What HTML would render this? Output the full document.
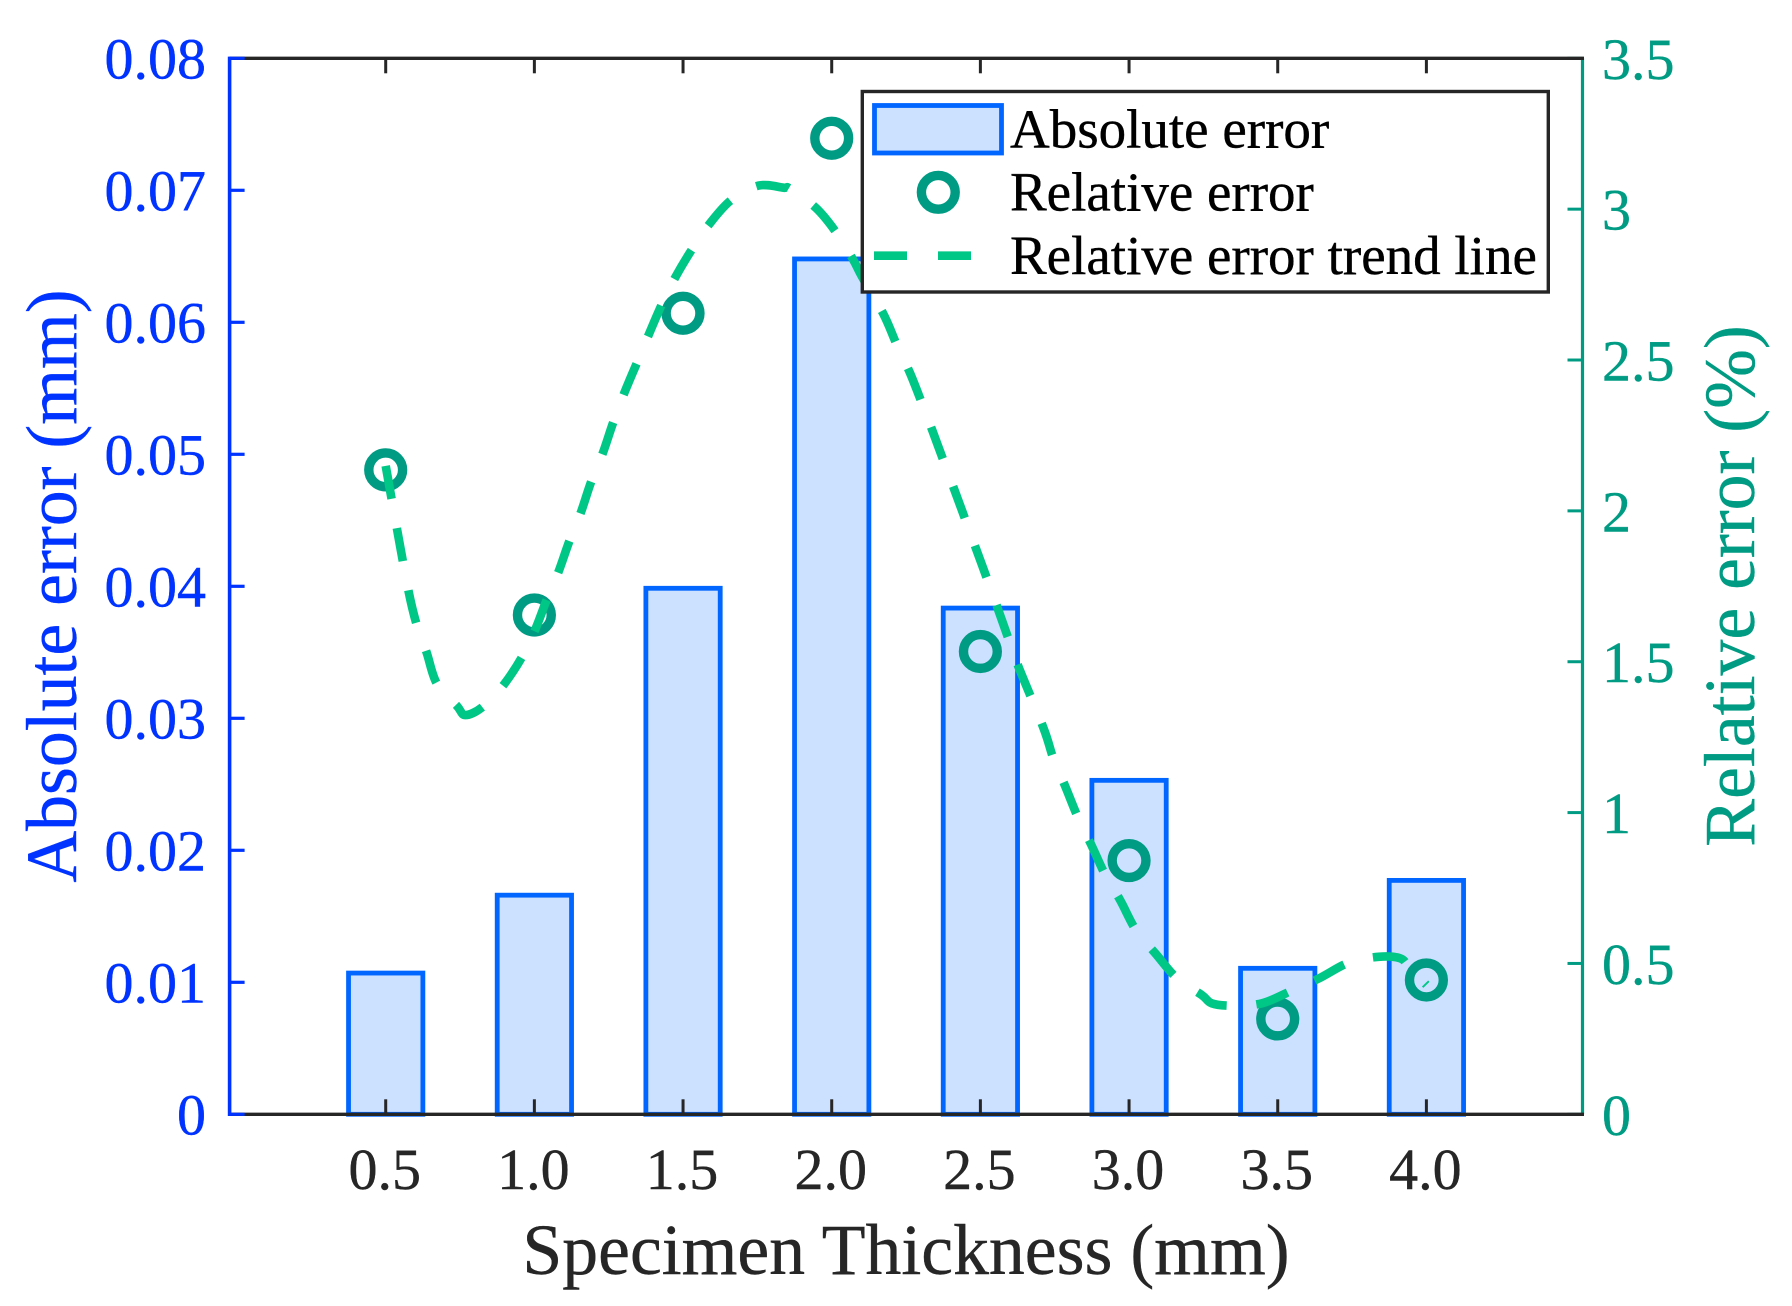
<!DOCTYPE html>
<html lang="en">
<head>
<meta charset="utf-8">
<title>Absolute and relative error vs specimen thickness</title>
<style>
html,body{margin:0;padding:0;background:#fff;}
svg{display:block;}
text{font-family:"Liberation Serif","Times New Roman",serif;}
</style>
</head>
<body>
<svg id="chart" xmlns="http://www.w3.org/2000/svg" width="1792" height="1306" viewBox="0 0 1792 1306"></svg>
<script>
const categories = [0.5, 1.0, 1.5, 2.0, 2.5, 3.0, 3.5, 4.0];
const categoryLabels = ['0.5', '1.0', '1.5', '2.0', '2.5', '3.0', '3.5', '4.0'];
const absoluteError = [0.01070, 0.01660, 0.03985, 0.06480, 0.03835, 0.02530, 0.01106, 0.01772];
const relativeError = [2.136, 1.655, 2.655, 3.235, 1.534, 0.841, 0.316, 0.445];
const leftTicks = [0, 0.01, 0.02, 0.03, 0.04, 0.05, 0.06, 0.07, 0.08];
const leftTickLabels = ['0', '0.01', '0.02', '0.03', '0.04', '0.05', '0.06', '0.07', '0.08'];
const rightTicks = [0, 0.5, 1, 1.5, 2, 2.5, 3, 3.5];
const rightTickLabels = ['0', '0.5', '1', '1.5', '2', '2.5', '3', '3.5'];
const trendThickness = [0.5, 0.538, 0.577, 0.603, 0.637, 0.672, 0.740, 0.768, 0.827, 0.896, 0.958, 1.003, 1.042, 1.081, 1.118, 1.157, 1.191, 1.231, 1.266, 1.302, 1.345, 1.384, 1.429, 1.474, 1.530, 1.589, 1.662, 1.754, 1.838, 1.861, 1.948, 2.017, 2.073, 2.102, 2.174, 2.219, 2.262, 2.303, 2.339, 2.378, 2.413, 2.452, 2.486, 2.525, 2.559, 2.597, 2.630, 2.712, 2.746, 2.785, 2.828, 2.872, 2.920, 2.970, 3.024, 3.088, 3.161, 3.245, 3.278, 3.346, 3.447, 3.547, 3.640, 3.738, 3.839, 3.912, 3.942, 4.0];
const trendError = [2.149, 1.940, 1.733, 1.627, 1.533, 1.428, 1.353, 1.323, 1.351, 1.423, 1.515, 1.607, 1.707, 1.798, 1.901, 1.997, 2.097, 2.194, 2.296, 2.390, 2.491, 2.583, 2.685, 2.774, 2.867, 2.951, 3.030, 3.078, 3.071, 3.067, 3.003, 2.920, 2.831, 2.776, 2.652, 2.550, 2.460, 2.358, 2.265, 2.161, 2.069, 1.964, 1.873, 1.768, 1.675, 1.569, 1.479, 1.281, 1.178, 1.088, 0.984, 0.895, 0.793, 0.710, 0.609, 0.534, 0.451, 0.395, 0.368, 0.360, 0.368, 0.410, 0.451, 0.502, 0.522, 0.517, 0.488, 0.429];

const NS = 'http://www.w3.org/2000/svg';
const svg = document.getElementById('chart');
const plot = {left: 229.6, right: 1582.5, top: 58.3, bottom: 1114.3};
const xMin = -0.025, xMax = 4.525, leftMax = 0.08, rightMax = 3.5;
const BLUE = '#0033ff', TEAL = '#009b83', DARK = '#262626', BAR_EDGE = '#0066ff', BAR_FILL = '#cce0ff', LINE = '#00c785';

function xPos(t) { return plot.left + (t - xMin) / (xMax - xMin) * (plot.right - plot.left); }
function yLeft(v) { return plot.bottom - v / leftMax * (plot.bottom - plot.top); }
function yRight(v) { return plot.bottom - v / rightMax * (plot.bottom - plot.top); }
function make(tag, attrs) {
  const node = document.createElementNS(NS, tag);
  for (const key in attrs) node.setAttribute(key, attrs[key]);
  if (tag === 'text') {
    node.setAttribute('stroke', attrs.fill);
    node.setAttribute('stroke-width', '0.4');
  }
  return node;
}
function smoothPath(pts) {
  let d = 'M' + pts[0][0].toFixed(1) + ' ' + pts[0][1].toFixed(1);
  for (let i = 0; i < pts.length - 1; i++) {
    const p0 = pts[Math.max(i - 1, 0)], p1 = pts[i], p2 = pts[i + 1], p3 = pts[Math.min(i + 2, pts.length - 1)];
    const c1x = p1[0] + (p2[0] - p0[0]) / 6, c1y = p1[1] + (p2[1] - p0[1]) / 6;
    const c2x = p2[0] - (p3[0] - p1[0]) / 6, c2y = p2[1] - (p3[1] - p1[1]) / 6;
    d += 'C' + c1x.toFixed(1) + ' ' + c1y.toFixed(1) + ' ' + c2x.toFixed(1) + ' ' + c2y.toFixed(1) + ' ' + p2[0].toFixed(1) + ' ' + p2[1].toFixed(1);
  }
  return d;
}

const barWidth = xPos(0.25) - xPos(0);
absoluteError.forEach(function (v, i) {
  const el = make('rect', {x: xPos(categories[i]) - barWidth / 2, y: yLeft(v), width: barWidth, height: plot.bottom - yLeft(v), fill: BAR_FILL, stroke: BAR_EDGE, 'stroke-width': 4.8});
  
  
  svg.appendChild(el);
});

rightTicks.forEach(function (v, i) {
  const y = yRight(v);
  const tick = make('line', {x1: plot.right, x2: plot.right - 15, y1: y, y2: y, stroke: TEAL, 'stroke-width': 3});
  
  
  svg.appendChild(tick);
  const label = make('text', {x: 1602, y: y + 20.5, 'font-size': 58, fill: TEAL});
  label.textContent = rightTickLabels[i];
  
  
  svg.appendChild(label);
});

const rightAxis = make('line', {x1: plot.right, x2: plot.right, y1: plot.top, y2: plot.bottom, stroke: TEAL, 'stroke-width': 3.2});


svg.appendChild(rightAxis);

const topAxis = make('line', {x1: plot.left, x2: plot.right + 1.5, y1: plot.top, y2: plot.top, stroke: DARK, 'stroke-width': 3.4});


svg.appendChild(topAxis);

const bottomAxis = make('line', {x1: plot.left, x2: plot.right + 1.5, y1: plot.bottom, y2: plot.bottom, stroke: DARK, 'stroke-width': 3.4});


svg.appendChild(bottomAxis);

categories.forEach(function (t, i) {
  const x = xPos(t);
  const tickBottom = make('line', {x1: x, x2: x, y1: plot.bottom, y2: plot.bottom - 15, stroke: DARK, 'stroke-width': 3});
  
  
  svg.appendChild(tickBottom);
  const tickTop = make('line', {x1: x, x2: x, y1: plot.top, y2: plot.top + 15, stroke: DARK, 'stroke-width': 3});
  
  
  svg.appendChild(tickTop);
  const label = make('text', {x: x - 1, y: 1189, 'font-size': 58, fill: DARK, 'text-anchor': 'middle'});
  label.textContent = categoryLabels[i];
  
  
  svg.appendChild(label);
});

leftTicks.forEach(function (v, i) {
  const y = yLeft(v);
  const tick = make('line', {x1: plot.left, x2: plot.left + 15, y1: y, y2: y, stroke: BLUE, 'stroke-width': 3.2});
  
  
  svg.appendChild(tick);
  const label = make('text', {x: 206, y: y + 20.4, 'font-size': 58, fill: BLUE, 'text-anchor': 'end'});
  label.textContent = leftTickLabels[i];
  
  
  svg.appendChild(label);
});

const leftAxis = make('line', {x1: plot.left, x2: plot.left, y1: plot.top - 1.7, y2: plot.bottom + 1.7, stroke: BLUE, 'stroke-width': 3.6});


svg.appendChild(leftAxis);

relativeError.forEach(function (v, i) {
  const el = make('circle', {cx: xPos(categories[i]), cy: yRight(v), r: 16.9, fill: 'none', stroke: TEAL, 'stroke-width': 9.4});
  
  
  svg.appendChild(el);
});

const trendPoints = trendThickness.map(function (t, i) { return [xPos(t), yRight(trendError[i])]; });
const trend = make('path', {d: smoothPath(trendPoints), fill: 'none', stroke: LINE, 'stroke-width': 8.6, 'stroke-dasharray': '33.5 29.7', 'stroke-linejoin': 'round'});


svg.appendChild(trend);

const legendBox = make('rect', {x: 862.3, y: 91.5, width: 686, height: 200.5, fill: '#ffffff', stroke: DARK, 'stroke-width': 3.4});


svg.appendChild(legendBox);

const legendSwatch = make('rect', {x: 874.5, y: 105.5, width: 127, height: 47.5, fill: BAR_FILL, stroke: BAR_EDGE, 'stroke-width': 4.8});


svg.appendChild(legendSwatch);

const legendMarker = make('circle', {cx: 938.3, cy: 192.3, r: 16.9, fill: 'none', stroke: TEAL, 'stroke-width': 9.4});


svg.appendChild(legendMarker);

const legendDash = make('line', {x1: 874, x2: 971, y1: 255.7, y2: 255.7, stroke: LINE, 'stroke-width': 8.6, 'stroke-dasharray': '33 31'});


svg.appendChild(legendDash);

const legendText1 = make('text', {x: 1010, y: 147.5, 'font-size': 55, fill: '#000000'});
legendText1.textContent = 'Absolute error';


svg.appendChild(legendText1);

const legendText2 = make('text', {x: 1010, y: 210.5, 'font-size': 55, fill: '#000000'});
legendText2.textContent = 'Relative error';


svg.appendChild(legendText2);

const legendText3 = make('text', {x: 1010, y: 274, 'font-size': 55, fill: '#000000'});
legendText3.textContent = 'Relative error trend line';


svg.appendChild(legendText3);

const xTitle = make('text', {x: 906, y: 1274, 'font-size': 71.7, fill: DARK, 'text-anchor': 'middle'});
xTitle.textContent = 'Specimen Thickness (mm)';


svg.appendChild(xTitle);

const yTitleLeft = make('text', {x: 0, y: 0, 'font-size': 71.7, fill: BLUE, 'text-anchor': 'middle', transform: 'translate(76 586) rotate(-90)'});
yTitleLeft.textContent = 'Absolute error (mm)';


svg.appendChild(yTitleLeft);

const yTitleRight = make('text', {x: 0, y: 0, 'font-size': 71.7, fill: TEAL, 'text-anchor': 'middle', transform: 'translate(1754 586) rotate(-90)'});
yTitleRight.textContent = 'Relative error (%)';


svg.appendChild(yTitleRight);
</script>
</body>
</html>
